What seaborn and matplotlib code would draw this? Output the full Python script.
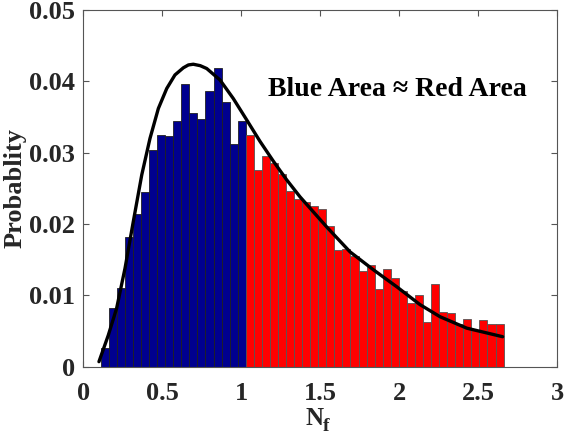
import numpy as np
import pandas as pd
import matplotlib
matplotlib.use("Agg")
import matplotlib.pyplot as plt
import seaborn as sns

# ---- data ----
bin_start = 0.110
bin_width = 0.051
blue_heights = [0.00266, 0.00827, 0.01107, 0.01822, 0.02145, 0.02444, 0.03037,
                0.03252, 0.03234, 0.03449, 0.03967, 0.03560, 0.03467, 0.03864,
                0.04182, 0.03706, 0.03121, 0.03449]
red_heights = [0.03254, 0.02753, 0.02949, 0.02856, 0.02701, 0.02467, 0.02355,
               0.02303, 0.02252, 0.02214, 0.01966, 0.01639, 0.01643, 0.01554,
               0.01339, 0.01428, 0.01091, 0.01372, 0.01250, 0.01067, 0.00894,
               0.01002, 0.00623, 0.01161, 0.00768, 0.00749, 0.00599, 0.00674,
               0.00515, 0.00655, 0.00604, 0.00604]
curve_x = [0.099, 0.158, 0.211, 0.264, 0.316, 0.370, 0.422, 0.475, 0.528, 0.580,
           0.633, 0.665, 0.696, 0.740, 0.781, 0.865, 0.949, 1.034, 1.118, 1.203,
           1.287, 1.372, 1.456, 1.540, 1.688, 1.835, 1.984, 2.131, 2.258, 2.427, 2.654]
curve_y = [0.0007, 0.0044, 0.0082, 0.0138, 0.0203, 0.0269, 0.0320, 0.0362, 0.0390,
           0.0409, 0.0419, 0.0423, 0.0424, 0.0422, 0.0418, 0.0402, 0.0376, 0.0346,
           0.0316, 0.0288, 0.0262, 0.0238, 0.0217, 0.0196, 0.0161, 0.0136, 0.0112,
           0.0087, 0.0070, 0.0054, 0.0042]
x_ticks = [0, 0.5, 1, 1.5, 2, 2.5, 3]
y_ticks = [0, 0.01, 0.02, 0.03, 0.04, 0.05]
annotation = "Blue Area \u2248 Red Area"
x_label_main = "N"
x_label_sub = "f"
y_label = "Probablity"

sns.set_style("white")
plt.rcParams['font.family'] = ['Liberation Serif', 'DejaVu Serif']
plt.rcParams['font.weight'] = 'bold'

n_blue = len(blue_heights)
n_red = len(red_heights)
edges_all = [bin_start + bin_width * i for i in range(n_blue + n_red + 1)]
blue_edges = edges_all[:n_blue + 1]
red_edges = edges_all[n_blue:]
blue_df = pd.DataFrame({"x": [(a + b) / 2 for a, b in zip(blue_edges[:-1], blue_edges[1:])],
                        "w": blue_heights})
red_df = pd.DataFrame({"x": [(a + b) / 2 for a, b in zip(red_edges[:-1], red_edges[1:])],
                       "w": red_heights})
curve_df = pd.DataFrame({"x": curve_x, "y": curve_y})

fig = plt.figure(figsize=(5.81, 4.36), dpi=100)
ax = fig.add_axes([0.1434, 0.159, 0.8158, 0.818])

sns.histplot(data=blue_df, x="x", weights="w", bins=blue_edges, ax=ax,
             color="#00008F", edgecolor="#202020", linewidth=0.6, alpha=1, stat="count")
sns.histplot(data=red_df, x="x", weights="w", bins=red_edges, ax=ax,
             color="#FF0000", edgecolor="#555555", linewidth=0.6, alpha=1, stat="count")
sns.lineplot(data=curve_df, x="x", y="y", ax=ax, color="black", linewidth=2.4)

ax.set_xlim(0, 3)
ax.set_ylim(0, 0.05)
ax.set_xticks(x_ticks)
ax.set_xticklabels([f"{t:g}" for t in x_ticks])
ax.set_yticks(y_ticks)
ax.set_yticklabels([f"{t:g}" for t in y_ticks])
ax.tick_params(direction="in", length=4, width=0.8, color="#555555",
               labelsize=19, top=True, right=True, bottom=True, left=True)
ax.tick_params(axis="x", pad=11)
ax.tick_params(axis="y", pad=6)
for lab in ax.get_xticklabels() + ax.get_yticklabels():
    lab.set_fontweight("bold")
for s in ax.spines.values():
    s.set_color("#555555")
    s.set_linewidth(0.8)
    s.set_visible(True)

ax.set_xlabel("")
fig.text(305 / 581, 1 - 425 / 436, x_label_main, ha="left", va="baseline",
         fontsize=18, fontweight="bold")
fig.text(323 / 581, 1 - 431 / 436, x_label_sub, ha="left", va="baseline",
         fontsize=14, fontweight="bold")
ax.set_ylabel(y_label, fontsize=19, fontweight="bold", labelpad=2)
ax.text(0.39, 0.776, annotation, transform=ax.transAxes, ha="left", va="center",
        fontsize=20, fontweight="bold", color="black")

fig.savefig("out.png", dpi=100)
